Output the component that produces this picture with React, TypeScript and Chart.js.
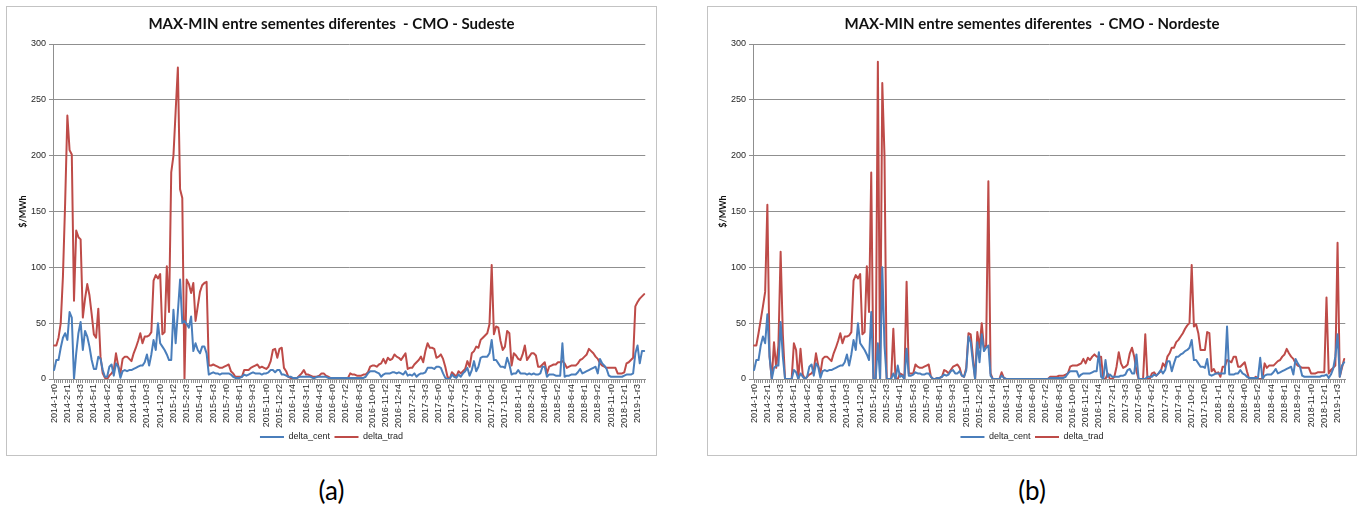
import React, { useEffect, useRef } from "react";
import { Chart, registerables } from "chart.js";

Chart.register(...registerables);

// ---- Categories: weekly revisions (a week belongs to the month of its Friday) ----
const FIRST_WEEK_START = Date.UTC(2013, 11, 28); // Saturday
const WEEK_COUNT = 268;
const LABEL_STEP = 6;

function buildRevisionLabels(start: number, count: number): string[] {
  const out: string[] = [];
  let prevMonth = -1;
  let rev = 0;
  for (let k = 0; k < count; k++) {
    const friday = new Date(start + (7 * k + 6) * 86400000);
    const y = friday.getUTCFullYear();
    const m = friday.getUTCMonth();
    rev = m === prevMonth ? rev + 1 : 0;
    prevMonth = m;
    out.push(`${y}-${m + 1}-r${rev}`);
  }
  return out;
}

const categories: string[] = buildRevisionLabels(FIRST_WEEK_START, WEEK_COUNT);

const seriesNames = ["delta_cent", "delta_trad"];
const yTicks = [0, 50, 100, 150, 200, 250, 300];
const unitLabel = "$/MWh";

// ---- Sudeste ----
const sudesteCent = [
  8, 17, 17, 28, 37, 41, 35, 60, 55, 0,
  23, 41, 51, 26, 43, 38, 29, 17, 9, 9,
  20, 18, 8, 2, 2, 11, 13, 3, 14, 11,
  1, 7, 8, 7, 8, 8, 9, 10, 11, 12,
  12, 15, 22, 12, 22, 35, 26, 50, 32, 29,
  26, 22, 17, 17, 62, 32, 60, 89, 50, 52,
  49, 46, 56, 25, 32, 26, 23, 29, 29, 23,
  4, 5, 6, 5, 5, 4, 5, 5, 5, 5,
  4, 2, 1, 1, 1, 2, 4, 3, 4, 5,
  6, 5, 5, 5, 4, 5, 5, 6, 8, 8,
  6, 8, 8, 4, 4, 3, 2, 2, 1, 1,
  1, 2, 2, 2, 2, 2, 2, 1, 1, 2,
  2, 2, 2, 2, 1, 1, 1, 1, 1, 1,
  1, 1, 1, 1, 1, 1, 1, 1, 1, 1,
  1, 2, 5, 7, 7, 7, 6, 5, 2, 4,
  5, 5, 5, 6, 6, 5, 6, 5, 4, 7,
  3, 4, 3, 5, 2, 4, 5, 5, 6, 10,
  10, 10, 9, 11, 11, 10, 5, 1, 0, 0,
  4, 2, 1, 4, 2, 5, 7, 10, 3, 8,
  16, 7, 11, 19, 20, 20, 20, 23, 35, 17,
  17, 14, 11, 11, 10, 19, 13, 4, 5, 5,
  8, 5, 5, 5, 4, 5, 4, 5, 4, 4,
  5, 11, 11, 2, 4, 4, 4, 3, 3, 3,
  32, 2, 3, 3, 4, 4, 4, 6, 9, 5,
  6, 7, 8, 9, 10, 11, 5, 18, 14, 12,
  9, 3, 2, 2, 2, 2, 2, 2, 3, 4,
  4, 4, 5, 23, 30, 14, 25, 25,
];

const sudesteTrad = [
  30, 30, 37, 50, 92, 158, 236, 205, 201, 70,
  133, 127, 125, 55, 72, 85, 75, 58, 40, 37,
  63, 20, 5, 1, 0, 3, 5, 8, 23, 12,
  5, 18, 20, 20, 18, 16, 23, 28, 34, 41,
  32, 38, 38, 39, 42, 88, 93, 90, 94, 40,
  42, 101, 60, 185, 200, 240, 279, 170, 162, 0,
  89, 85, 77, 86, 52, 65, 78, 84, 86, 87,
  12, 12, 13, 12, 11, 10, 10, 11, 12, 13,
  7, 5, 2, 2, 2, 2, 8, 8, 8, 10,
  11, 12, 13, 10, 11, 10, 9, 11, 16, 26,
  27, 19, 27, 28, 10, 7, 2, 1, 0, 0,
  1, 3, 5, 8, 4, 4, 3, 2, 2, 2,
  3, 5, 5, 3, 2, 1, 1, 1, 1, 1,
  1, 1, 1, 1, 5, 4, 4, 3, 3, 3,
  4, 4, 6, 11, 12, 12, 11, 13, 14, 18,
  14, 19, 17, 18, 22, 20, 19, 17, 20, 23,
  9, 10, 10, 13, 15, 17, 20, 15, 25, 32,
  28, 28, 27, 19, 20, 22, 18, 11, 2, 0,
  6, 4, 2, 7, 5, 7, 9, 16, 11, 23,
  25, 29, 28, 35, 37, 39, 41, 49, 102, 40,
  47, 46, 34, 26, 29, 43, 41, 12, 23, 21,
  18, 17, 22, 30, 17, 20, 23, 23, 21, 11,
  11, 13, 15, 5, 11, 12, 13, 13, 15, 15,
  16, 14, 10, 11, 12, 12, 12, 14, 17, 18,
  20, 22, 27, 25, 23, 20, 18, 14, 12, 11,
  10, 10, 10, 10, 10, 5, 5, 5, 6, 14,
  15, 17, 19, 65, 69, 72, 74, 76,
];

// ---- Nordeste ----
const nordesteCent = [
  8, 17, 17, 30, 38, 32, 58, 20, 0, 10,
  12, 12, 51, 20, 0, 0, 0, 0, 8, 6,
  0, 5, 2, 0, 2, 11, 13, 3, 14, 11,
  1, 7, 8, 7, 8, 8, 9, 10, 11, 12,
  12, 15, 22, 12, 22, 35, 26, 50, 32, 29,
  26, 22, 17, 60, 0, 0, 32, 0, 100, 30,
  0, 0, 0, 5, 0, 12, 2, 3, 0, 27,
  3, 3, 4, 6, 5, 5, 4, 4, 5, 5,
  2, 0, 0, 1, 1, 2, 4, 3, 4, 7,
  8, 5, 5, 7, 3, 2, 8, 38, 33, 15,
  0, 33, 15, 40, 25, 28, 30, 3, 0, 0,
  0, 0, 3, 1, 0, 0, 0, 0, 0, 0,
  0, 0, 0, 0, 0, 0, 0, 0, 0, 0,
  0, 0, 0, 0, 1, 1, 1, 1, 1, 1,
  1, 2, 5, 7, 7, 7, 7, 2, 4, 5,
  5, 5, 5, 6, 7, 7, 24, 2, 0, 17,
  2, 4, 2, 2, 2, 2, 3, 3, 4, 8,
  9, 5, 5, 22, 0, 0, 0, 0, 2, 2,
  2, 4, 3, 5, 8, 5, 8, 16, 16, 7,
  14, 20, 20, 22, 23, 25, 26, 28, 35, 17,
  17, 14, 11, 11, 10, 18, 4, 3, 4, 5,
  5, 5, 5, 5, 47, 4, 4, 4, 5, 5,
  8, 5, 4, 2, 1, 1, 1, 1, 1, 19,
  0, 3, 4, 4, 4, 6, 9, 5, 6, 7,
  8, 9, 10, 11, 4, 18, 14, 11, 3, 2,
  2, 2, 2, 2, 2, 2, 2, 3, 3, 4,
  1, 4, 9, 20, 40, 2, 12, 15,
];

const nordesteTrad = [
  30, 30, 41, 53, 65, 78, 156, 20, 0, 33,
  10, 30, 114, 40, 0, 0, 0, 0, 32, 26,
  0, 27, 4, 0, 2, 4, 5, 8, 23, 12,
  5, 18, 20, 20, 18, 16, 23, 28, 34, 41,
  32, 38, 38, 39, 42, 88, 93, 90, 94, 40,
  42, 101, 60, 185, 0, 0, 284, 0, 265, 200,
  0, 0, 0, 45, 0, 0, 5, 4, 0, 87,
  5, 5, 5, 13, 11, 10, 10, 11, 12, 13,
  2, 0, 0, 1, 1, 2, 8, 7, 5, 8,
  11, 12, 13, 10, 3, 2, 10, 41, 40, 20,
  0, 42, 28, 50, 28, 30, 177, 5, 0, 0,
  0, 0, 6, 1, 0, 0, 0, 0, 0, 0,
  0, 0, 0, 0, 0, 0, 0, 0, 0, 0,
  0, 0, 0, 0, 2, 2, 2, 2, 3, 3,
  3, 4, 5, 11, 12, 12, 12, 13, 14, 18,
  14, 19, 17, 20, 22, 20, 20, 20, 0, 0,
  5, 0, 0, 2, 11, 24, 14, 10, 11, 13,
  23, 28, 20, 7, 0, 0, 0, 40, 0, 0,
  5, 6, 3, 5, 7, 14, 11, 20, 23, 28,
  28, 33, 35, 38, 41, 45, 48, 50, 102, 47,
  49, 41, 26, 26, 26, 42, 41, 7, 9, 5,
  6, 2, 11, 11, 17, 16, 15, 20, 20, 11,
  11, 13, 15, 7, 0, 0, 0, 2, 0, 0,
  0, 14, 10, 12, 12, 12, 14, 16, 17, 20,
  22, 27, 23, 20, 18, 14, 12, 11, 10, 10,
  10, 10, 5, 5, 5, 6, 6, 6, 6, 73,
  5, 8, 10, 12, 122, 2, 10, 18,
];

// ---- Styling ----
const BLUE = "#4a7ebb";
const RED = "#be4b48";
const GRID = "#8f8f8f";
const TEXT = "#262626";
const UI_FONT = "Lato, 'Liberation Sans', sans-serif";
const TICK_FONT = "'Liberation Sans', Arial, sans-serif";

type PanelSpec = {
  title: string;
  cent: number[];
  trad: number[];
  left: number;
  width: number;
  sidePad: number;
  yAxisWidth: number;
  yTitlePad: number;
  caption: string;
};

// sidePad is applied on both sides so the title and legend stay centred on the panel
const panels: PanelSpec[] = [
  {
    title: "MAX-MIN entre sementes diferentes  - CMO - Sudeste",
    cent: sudesteCent,
    trad: sudesteTrad,
    left: 6,
    width: 651,
    sidePad: 10,
    yAxisWidth: 36,
    yTitlePad: 1,
    caption: "(a)",
  },
  {
    title: "MAX-MIN entre sementes diferentes  - CMO - Nordeste",
    cent: nordesteCent,
    trad: nordesteTrad,
    left: 707,
    width: 650,
    sidePad: 9,
    yAxisWidth: 36,
    yTitlePad: 1,
    caption: "(b)",
  },
];

const PANEL_TOP = 6;
const PANEL_HEIGHT = 450;

function buildConfig(p: PanelSpec): any {
  const lineStyle = {
    borderWidth: 2,
    pointRadius: 0,
    pointHoverRadius: 0,
    tension: 0,
    fill: false,
    borderJoinStyle: "round",
    borderCapStyle: "round",
  };
  return {
    type: "line",
    data: {
      labels: categories,
      datasets: [
        { ...lineStyle, label: seriesNames[0], data: p.cent, borderColor: BLUE, backgroundColor: BLUE },
        { ...lineStyle, label: seriesNames[1], data: p.trad, borderColor: RED, backgroundColor: RED },
      ],
    },
    options: {
      responsive: false,
      maintainAspectRatio: false,
      animation: false,
      devicePixelRatio: 1,
      events: [],
      layout: { padding: { left: p.sidePad, right: p.sidePad, top: 0, bottom: 3.5 } },
      plugins: {
        title: {
          display: true,
          text: p.title,
          color: "#111111",
          font: { family: UI_FONT, size: 15, weight: "bold" },
          padding: { top: 8.5, bottom: 10.5 },
        },
        legend: {
          display: true,
          position: "bottom",
          labels: {
            usePointStyle: true,
            pointStyle: "line",
            pointStyleWidth: 24,
            color: TEXT,
            padding: 4.5,
            font: { family: TICK_FONT, size: 9 },
          },
        },
        tooltip: { enabled: false },
      },
      scales: {
        x: {
          type: "category",
          offset: true,
          grid: {
            display: true,
            drawOnChartArea: false,
            drawTicks: true,
            tickLength: 4,
            color: GRID,
            offset: false,
          },
          border: { display: true, color: GRID, width: 1 },
          ticks: {
            autoSkip: false,
            minRotation: 90,
            maxRotation: 90,
            padding: 1,
            color: TEXT,
            font: { family: TICK_FONT, size: 9 },
            callback: (_value: any, index: number) =>
              index % LABEL_STEP === 0 ? categories[index] : "",
          },
          afterFit: (scale: any) => {
            scale.height = 49;
          },
        },
        y: {
          min: yTicks[0],
          max: yTicks[yTicks.length - 1],
          ticks: {
            stepSize: yTicks[1] - yTicks[0],
            padding: 3,
            color: TEXT,
            font: { family: TICK_FONT, size: 9 },
          },
          grid: { color: GRID, tickLength: 4, lineWidth: 1 },
          border: { display: true, color: GRID, width: 1 },
          title: {
            display: true,
            text: unitLabel,
            color: "#111111",
            font: { family: UI_FONT, size: 9, weight: "bold" },
            padding: { top: p.yTitlePad, bottom: 0 },
          },
          afterFit: (scale: any) => {
            scale.width = p.yAxisWidth;
          },
        },
      },
    },
  };
}

function Panel({ spec }: { spec: PanelSpec }) {
  const ref = useRef<HTMLCanvasElement>(null);
  const cw = spec.width - 2;
  const ch = PANEL_HEIGHT - 2;
  useEffect(() => {
    if (!ref.current) return;
    const chart = new Chart(ref.current, buildConfig(spec));
    return () => chart.destroy();
  }, [spec]);
  return (
    <>
      <div
        style={{
          position: "absolute",
          left: spec.left,
          top: PANEL_TOP,
          width: spec.width,
          height: PANEL_HEIGHT,
          boxSizing: "border-box",
          border: "1px solid #c3c3c3",
          background: "#ffffff",
        }}
      >
        <canvas
          ref={ref}
          width={cw}
          height={ch}
          style={{ display: "block", width: cw, height: ch }}
        />
      </div>
      <div
        style={{
          position: "absolute",
          left: spec.left + spec.width / 2 - 60,
          top: 474,
          width: 120,
          height: 32,
          lineHeight: "32px",
          textAlign: "center",
          fontFamily: UI_FONT,
          fontSize: 26,
          color: "#000000",
        }}
      >
        {spec.caption}
      </div>
    </>
  );
}

export default function App() {
  return (
    <div
      style={{
        position: "absolute",
        left: 0,
        top: 0,
        width: 1365,
        height: 508,
        background: "#ffffff",
        overflow: "hidden",
      }}
    >
      {panels.map((p) => (
        <Panel key={p.caption} spec={p} />
      ))}
    </div>
  );
}
